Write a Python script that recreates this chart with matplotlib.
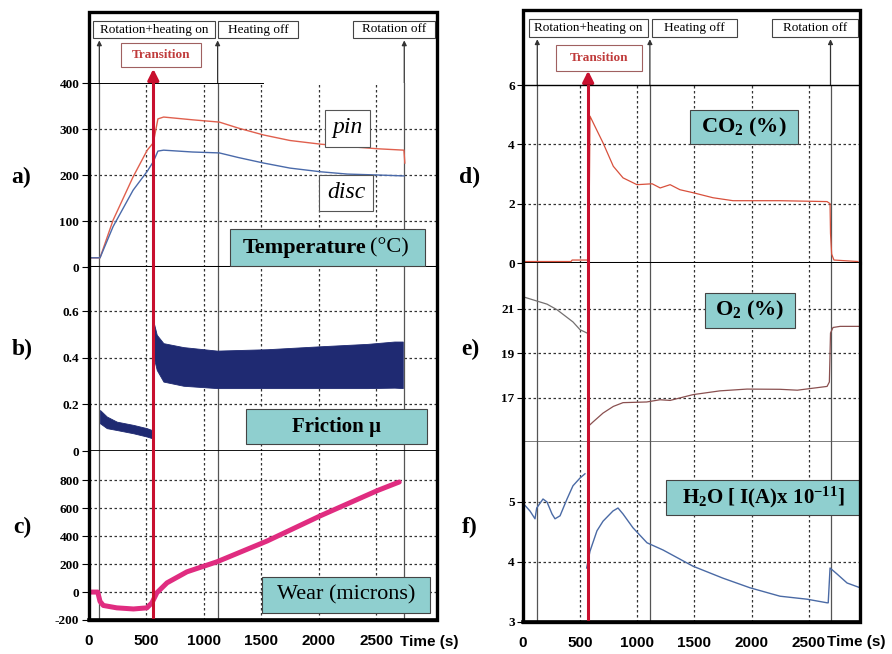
import matplotlib
matplotlib.use('Agg')
import matplotlib.pyplot as plt
from matplotlib.patches import Rectangle

plt.rcParams['font.family'] = ['Liberation Serif', 'DejaVu Serif']
plt.rcParams['mathtext.fontset'] = 'custom'
plt.rcParams['mathtext.rm'] = 'Liberation Serif'
plt.rcParams['mathtext.bf'] = 'Liberation Serif:bold'
plt.rcParams['mathtext.it'] = 'Liberation Serif:italic'

W, H = 892, 654

# ---------------- left column data ----------------
pin_t = [0, 96, 210, 384, 507, 560, 600, 650, 900, 1135, 1300, 1520, 1750, 2017, 2250, 2515, 2742, 2750]
pin_temp = [20, 20, 102, 196, 254, 270, 322, 326, 320, 315, 302, 287, 275, 267, 262, 257, 254, 226]
disc_t = [0, 96, 210, 384, 507, 560, 600, 650, 900, 1135, 1300, 1520, 1750, 2017, 2250, 2515, 2742]
disc_temp = [20, 20, 88, 167, 208, 229, 252, 254, 250, 248, 238, 226, 215, 207, 202, 200, 198]

fric_pre_t = [96, 155, 242, 387, 504, 548]
fric_pre_hi = [0.176, 0.148, 0.126, 0.112, 0.098, 0.090]
fric_pre_lo = [0.119, 0.098, 0.090, 0.076, 0.062, 0.055]
fric_post_t = [561, 590, 648, 823, 1115, 1552, 1989, 2426, 2659, 2732]
fric_post_hi = [0.556, 0.499, 0.463, 0.446, 0.431, 0.437, 0.449, 0.460, 0.470, 0.470]
fric_post_lo = [0.406, 0.348, 0.298, 0.280, 0.270, 0.270, 0.270, 0.270, 0.272, 0.270]

wear_t = [0, 76, 96, 125, 242, 387, 504, 548, 591, 679, 853, 1115, 1552, 2017, 2512, 2701]
wear_val = [0, 0, -67, -96, -113, -121, -113, -77, -5, 66, 145, 217, 366, 547, 727, 788]

left_events = [90, 1120, 2745]
left_transition = 560

# ---------------- right column data ----------------
co2_t = [0, 420, 430, 575, 586, 630, 700, 790, 875, 997, 1130, 1200, 1287, 1373, 1487,
         1662, 1837, 2248, 2660, 2686, 2690, 2700, 2720, 2930]
co2_val = [0.05, 0.05, 0.1, 0.1, 4.95, 4.6, 4.05, 3.26, 2.87, 2.64, 2.67, 2.53, 2.64, 2.47, 2.37,
           2.2, 2.1, 2.1, 2.07, 2.0, 1.0, 0.3, 0.1, 0.05]

o2_pre_t = [20, 210, 297, 437, 499, 560]
o2_pre = [21.5, 21.2, 20.95, 20.4, 20.05, 19.9]
o2_post_t = [565, 570, 612, 700, 790, 875, 1082, 1199, 1287, 1487, 1723, 1960, 2248, 2400,
             2660, 2680, 2690, 2712, 2774, 2950]
o2_post = [16.5, 15.7, 15.9, 16.3, 16.6, 16.77, 16.8, 16.9, 16.87, 17.13, 17.3, 17.38, 17.37, 17.33,
           17.5, 17.7, 19.9, 20.15, 20.2, 20.2]

h2o_pre_t = [0, 61, 105, 120, 175, 210, 254, 280, 324, 385, 437, 499, 542]
h2o_pre = [4.98, 4.85, 4.72, 4.9, 5.05, 5.0, 4.8, 4.72, 4.77, 5.05, 5.27, 5.4, 5.47]
h2o_post_t = [557, 586, 647, 700, 787, 831, 875, 962, 1085, 1225, 1487, 1750, 1986, 2248,
              2485, 2660, 2670, 2686, 2747, 2835, 2950]
h2o_post = [3.9, 4.18, 4.52, 4.68, 4.85, 4.9, 4.8, 4.57, 4.32, 4.2, 3.93, 3.73, 3.57, 3.43,
            3.38, 3.32, 3.32, 3.9, 3.8, 3.65, 3.57]

right_events = [125, 1110, 2690]
right_transition = 570

x_ticks = [0, 500, 1000, 1500, 2000, 2500]
event_names = ['Rotation+heating on', 'Heating off', 'Rotation off']

a_ticks = [0, 100, 200, 300, 400]
b_ticks = [0, 0.2, 0.4, 0.6]
b_labels = ['0', '0.2', '0.4', '0.6']
c_ticks = [-200, 0, 200, 400, 600, 800]
d_ticks = [0, 2, 4, 6]
e_ticks = [17, 19, 21]
f_ticks = [3, 4, 5]

RED = '#c8102e'
GRID = dict(color='#333333', lw=0.9, ls=(0, (2, 2)), zorder=1)
EVENT = dict(color='#555555', lw=0.9, zorder=1)


def frac(x0, y0, x1, y1):
    return [x0 / W, 1 - y1 / H, (x1 - x0) / W, (y1 - y0) / H]


fig = plt.figure(figsize=(W / 100, H / 100), dpi=100)


def panel(rect, xmax, ylim, ticks, labels, grid_vals, events, trans, bottom_lw, bottom_color='black',
          xlabels=False, tick_len=5):
    ax = fig.add_axes(frac(*rect))
    ax.set_xlim(0, xmax)
    ax.set_ylim(*ylim)
    ax.set_yticks(ticks)
    ax.set_yticklabels(labels, fontweight='bold', fontsize=9.5)
    ax.tick_params(axis='y', direction='out', length=tick_len, width=0.8, pad=2)
    for s in ['left', 'right', 'top']:
        ax.spines[s].set_visible(False)
    ax.spines['bottom'].set_linewidth(bottom_lw)
    ax.spines['bottom'].set_color(bottom_color)
    for g in grid_vals:
        ax.axhline(g, **GRID)
    for g in x_ticks[1:]:
        ax.axvline(g, **GRID)
    for e in events:
        ax.axvline(e, **EVENT)
    ax.axvline(trans, color=RED, lw=2.2, zorder=6)
    ax.set_xticks(x_ticks)
    if xlabels:
        ax.set_xticklabels([str(v) for v in x_ticks], fontfamily='Liberation Sans',
                           fontweight='bold', fontsize=11)
        ax.tick_params(axis='x', length=0, pad=10)
    else:
        ax.tick_params(axis='x', length=0, labelbottom=False)
    return ax


def header(rect, xmax, events, trans, head_frac, trans_frac):
    ax = fig.add_axes(frac(*rect))
    ax.set_xlim(0, xmax)
    ax.set_ylim(0, 1)
    ax.axis('off')
    for e in events:
        ax.annotate('', xy=(e, head_frac), xytext=(e, 0),
                    arrowprops=dict(arrowstyle='-|>', color='#333333', lw=0.9,
                                    mutation_scale=7, shrinkA=0, shrinkB=0))
    ax.annotate('', xy=(trans, trans_frac), xytext=(trans, 0),
                arrowprops=dict(arrowstyle='-|>', color=RED, lw=2.4,
                                mutation_scale=16, shrinkA=0, shrinkB=0))
    return ax


# ---------------- left column ----------------
LX = 3030
header((89, 12, 437, 83), LX, left_events, left_transition, 0.6, 0.2)

ax_a = panel((89, 83, 437, 267), LX, (0, 400), a_ticks, [str(v) for v in a_ticks],
             a_ticks[1:-1], left_events, left_transition, 2.2)
ax_a.axhline(a_ticks[-1], xmax=0.5, color='black', lw=1.4, zorder=2)
ax_a.plot(pin_t, pin_temp, color='#e0604e', lw=1.0, zorder=3)
ax_a.plot(disc_t, disc_temp, color='#4a6aaa', lw=1.0, zorder=3)

ax_b = panel((89, 267, 437, 451), LX, (0, 0.79), b_ticks, b_labels,
             b_ticks[1:], left_events, left_transition, 2.0)
ax_b.fill_between(fric_pre_t, fric_pre_lo, fric_pre_hi, color='#1f2a72', lw=0.6, zorder=3)
ax_b.fill_between(fric_post_t, fric_post_lo, fric_post_hi, color='#1f2a72', lw=0.6, zorder=3)

ax_c = panel((89, 451, 437, 620), LX, (-200, 1010), c_ticks, [str(v) for v in c_ticks],
             c_ticks[1:], left_events, left_transition, 2.6, xlabels=True)
ax_c.plot(wear_t, wear_val, color='#e02c80', lw=3.6, solid_capstyle='round', zorder=3)

# ---------------- right column ----------------
RX = 2948
header((523, 10, 860, 85), RX, right_events, right_transition, 0.61, 0.19)

ax_d = panel((523, 85, 860, 263), RX, (0, 6), d_ticks, [str(v) for v in d_ticks],
             d_ticks[1:-1], right_events, right_transition, 2.2, tick_len=4)
ax_d.spines['top'].set_visible(True)
ax_d.spines['top'].set_linewidth(1.0)
ax_d.plot(co2_t, co2_val, color='#d8503c', lw=0.9, zorder=3)

ax_e = panel((523, 263, 860, 442), RX, (15, 23.05), e_ticks, [str(v) for v in e_ticks],
             e_ticks, right_events, right_transition, 1.8, bottom_color='#555555', tick_len=4)
ax_e.plot(o2_pre_t, o2_pre, color='#747070', lw=0.9, zorder=3)
ax_e.plot(o2_post_t, o2_post, color='#8a5050', lw=0.9, zorder=3)

ax_f = panel((523, 442, 860, 622), RX, (3, 6), f_ticks, [str(v) for v in f_ticks],
             f_ticks[1:], right_events, right_transition, 2.6, xlabels=True, tick_len=4)
ax_f.plot(h2o_pre_t, h2o_pre, color='#4a6aa5', lw=1.0, zorder=3)
ax_f.plot(h2o_post_t, h2o_post, color='#4a6aa5', lw=1.0, zorder=3)

# ---------------- overlay: frames, boxes, labels ----------------
ov = fig.add_axes([0, 0, 1, 1])
ov.set_xlim(0, W)
ov.set_ylim(H, 0)
ov.axis('off')
ov.patch.set_alpha(0)


def box(x0, y0, x1, y1, face='white', edge='#444444', lw=0.8):
    ov.add_patch(Rectangle((x0, y0), x1 - x0, y1 - y0, facecolor=face, edgecolor=edge, lw=lw, zorder=3))


TEAL = '#8fcfcf'

# frames
for x0, y0, x1, y1 in [(89, 12, 437, 620), (523, 10, 860, 622)]:
    ov.add_patch(Rectangle((x0, y0), x1 - x0, y1 - y0, fill=False, edgecolor='black', lw=2.4, zorder=5))

# event label boxes
for (x0, x1), name in zip([(93, 215), (218, 298), (353, 435)], event_names):
    box(x0, 21, x1, 38)
    ov.text((x0 + x1) / 2, 29.5, name, ha='center', va='center', fontsize=9.5, zorder=4)
for (x0, x1), name in zip([(529, 648), (652, 737), (772, 858)], event_names):
    box(x0, 19, x1, 37)
    ov.text((x0 + x1) / 2, 28, name, ha='center', va='center', fontsize=9.5, zorder=4)

for x0, y0, x1, y1 in [(121, 43, 201, 67), (556, 45, 642, 71)]:
    box(x0, y0, x1, y1, edge='#a06060')
    ov.text((x0 + x1) / 2, (y0 + y1) / 2, 'Transition', ha='center', va='center',
            fontsize=9.5, fontweight='bold', color='#c03c3c', zorder=4)

# quantity boxes
box(230, 229, 425, 266, face=TEAL)
ov.text(366, 248, 'Temperature', ha='right', va='center', fontsize=16, fontweight='bold', zorder=4)
ov.text(370, 248, '(°C)', ha='left', va='center', fontsize=16, zorder=4)

box(246, 409, 427, 444, face=TEAL)
ov.text(336, 427, 'Friction µ', ha='center', va='center', fontsize=15, fontweight='bold', zorder=4)

box(262, 577, 430, 613, face=TEAL)
ov.text(346, 595, 'Wear (microns)', ha='center', va='center', fontsize=16, zorder=4)

box(325, 110, 370, 147, edge='#555555')
ov.text(347.5, 128, 'pin', ha='center', va='center', fontsize=17, style='italic', zorder=4)
box(319, 175, 373, 211, edge='#555555')
ov.text(346, 193, 'disc', ha='center', va='center', fontsize=17, style='italic', zorder=4)

box(690, 110, 798, 144, face=TEAL)
ov.text(744, 127, r'CO$_\mathbf{2}$ (%)', ha='center', va='center', fontsize=16, fontweight='bold', zorder=4)
box(705, 293, 795, 328, face=TEAL)
ov.text(750, 310, r'O$_\mathbf{2}$ (%)', ha='center', va='center', fontsize=16, fontweight='bold', zorder=4)
box(666, 480, 860, 515, face=TEAL)
ov.text(763, 497, r'H$_\mathbf{2}$O [ I(A)x 10$^\mathbf{-11}$]', ha='center', va='center',
        fontsize=15, fontweight='bold', zorder=4)

# panel letters
for s, x, y in [('a)', 21, 177), ('b)', 22, 349), ('c)', 22, 527),
                ('d)', 470, 177), ('e)', 470, 349), ('f)', 470, 527)]:
    ov.text(x, y, s, ha='center', va='center', fontsize=17, fontweight='bold', zorder=4)

for x in [400, 827]:
    ov.text(x, 642, 'Time (s)', ha='left', va='center', fontfamily='Liberation Sans',
            fontsize=11, fontweight='bold', zorder=4)

fig.savefig('out.png', dpi=100)
